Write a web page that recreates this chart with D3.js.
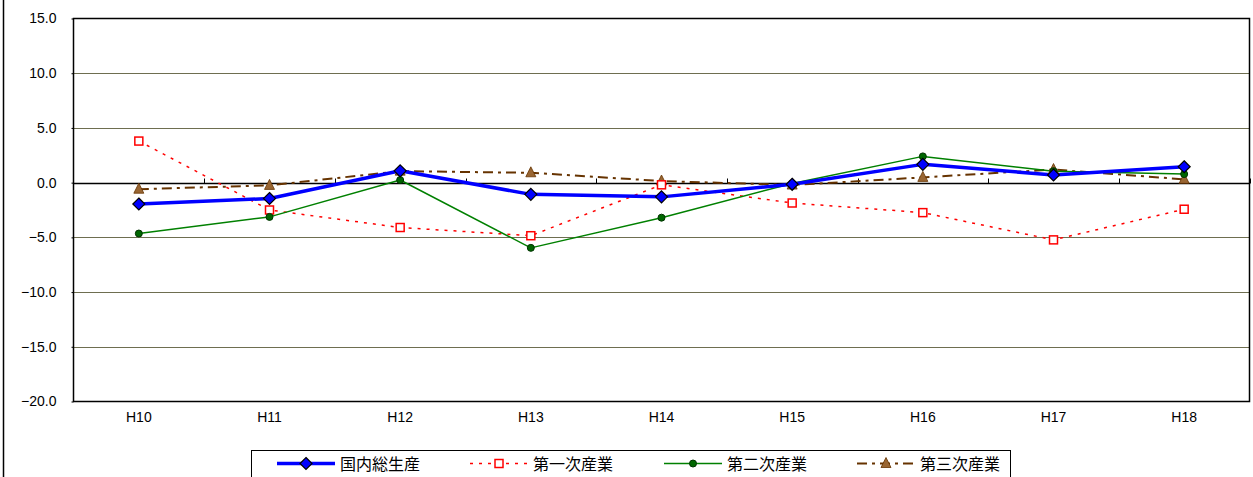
<!DOCTYPE html>
<html><head><meta charset="utf-8">
<script src="https://cdn.jsdelivr.net/npm/d3@7"></script>
<style>body{margin:0;background:#fff}svg{display:block}</style>
</head><body>
<svg id="c" width="1253" height="477"></svg>
<script>
const categories = ["H10","H11","H12","H13","H14","H15","H16","H17","H18"];
const gdp       = [-1.95,-1.45, 1.08,-1.07,-1.30,-0.15, 1.67, 0.70, 1.45];
const primary   = [ 3.80,-2.50,-4.10,-4.85,-0.20,-1.86,-2.74,-5.23,-2.43];
const secondary = [-4.65,-3.13, 0.24,-5.96,-3.20,-0.07, 2.40, 1.05, 0.78];
const tertiary  = [-0.60,-0.25, 1.05, 0.90, 0.15,-0.22, 0.48, 1.20, 0.30];
const seriesNames = ["国内総生産","第一次産業","第二次産業","第三次産業"];
const yTicks = [15,10,5,0,-5,-10,-15,-20];

const svg = d3.select("#c");
const L=73.5, R=1249.5, T=18.5, B=401.5;
const x = d3.scaleBand().domain(categories).range([L,R]);
const y = d3.scaleLinear().domain([-20,15]).range([B,T]);
const cx = d => x(d)+x.bandwidth()/2;
const numFont = "Liberation Sans, Arial, sans-serif";

// outer left border
svg.append("line").attr("x1",3.5).attr("x2",3.5).attr("y1",0).attr("y2",477).attr("stroke","#000").attr("stroke-width",1.5);

// gridlines
svg.append("g").selectAll("line").data(yTicks.filter(v=>v!==0 && v!==15 && v!==-20)).join("line")
  .attr("x1",L).attr("x2",R).attr("y1",d=>Math.round(y(d))+0.5).attr("y2",d=>Math.round(y(d))+0.5)
  .attr("stroke","#6e6e50").attr("stroke-width",1);

// plot border
svg.append("rect").attr("x",L).attr("y",T).attr("width",R-L).attr("height",B-T)
  .attr("fill","none").attr("stroke","#000").attr("stroke-width",1.5);

// y axis labels
const yAxis = d3.axisLeft(y).tickValues(yTicks).tickFormat(d3.format(".1f")).tickSize(2).tickPadding(15);
const gy = svg.append("g").attr("transform",`translate(${L},0)`).call(yAxis);
gy.select(".domain").remove();
gy.selectAll("line").attr("stroke","#000");
gy.selectAll("text").attr("font-family",numFont).attr("font-size",14).attr("fill","#000")
  .text(d=>d3.format(".1f")(d).replace("-","−"));

// zero axis with ticks at category boundaries
const y0 = Math.round(y(0))+0.5;
svg.append("line").attr("x1",L).attr("x2",R).attr("y1",y0).attr("y2",y0).attr("stroke","#000").attr("stroke-width",1.3);
const bounds = categories.slice(1).map(c=>x(c)).concat([R]);
svg.append("g").selectAll("line").data(bounds).join("line")
  .attr("x1",d=>Math.round(d)+0.5).attr("x2",d=>Math.round(d)+0.5).attr("y1",y0-5).attr("y2",y0)
  .attr("stroke","#000").attr("stroke-width",1);

// x labels
const xAxis = d3.axisBottom(x).tickSize(0).tickPadding(11);
const gx = svg.append("g").attr("transform",`translate(0,${B})`).call(xAxis);
gx.select(".domain").remove();
gx.selectAll("text").attr("font-family",numFont).attr("font-size",14).attr("fill","#000");

const line = d3.line().x((d,i)=>cx(categories[i])).y(d=>y(d));

function diamond(g,px,py,s){ g.append("path").attr("d",`M${px},${py-s}L${px+s},${py}L${px},${py+s}L${px-s},${py}Z`).attr("fill","#0000ff").attr("stroke","#000").attr("stroke-width",1.2); }
function square(g,px,py){ g.append("rect").attr("x",px-4).attr("y",py-4).attr("width",8).attr("height",8).attr("fill","#fff").attr("stroke","#ff0000").attr("stroke-width",1.5); }
function circle(g,px,py){ g.append("circle").attr("cx",px).attr("cy",py).attr("r",3.5).attr("fill","#006600").attr("stroke","#003300").attr("stroke-width",1); }
function tri(g,px,py){ g.append("path").attr("d",`M${px},${py-6}L${px+5},${py+4}L${px-5},${py+4}Z`).attr("fill","#996633").attr("stroke","#663300").attr("stroke-width",0.8); }

const styles = [
  {data:gdp, color:"#0000ff", w:3.5, dash:null, mk:(g,a,b)=>diamond(g,a,b,6)},
  {data:primary, color:"#ff0000", w:1.5, dash:"3,6", mk:square},
  {data:secondary, color:"#008000", w:1.5, dash:null, mk:circle},
  {data:tertiary, color:"#663300", w:2, dash:"10,5,3,5", mk:tri}
];
const order=[3,1,2,0];
order.forEach(k=>{
  const s=styles[k];
  svg.append("path").datum(s.data).attr("d",line).attr("fill","none").attr("stroke",s.color)
    .attr("stroke-width",s.w).attr("stroke-dasharray",s.dash).attr("stroke-linejoin","round");
});
order.forEach(k=>{
  const s=styles[k]; const g=svg.append("g");
  s.data.forEach((v,i)=>s.mk(g,cx(categories[i]),y(v)));
});

// legend
const lg = svg.append("g");
lg.append("rect").attr("x",251.5).attr("y",450.5).attr("width",759).attr("height",30).attr("fill","#fff").attr("stroke","#000").attr("stroke-width",1);
const lx=[277,470,664,857];
const ly=463.5;
seriesNames.forEach((n,k)=>{
  const s=styles[k];
  lg.append("line").attr("x1",lx[k]).attr("x2",lx[k]+58).attr("y1",ly).attr("y2",ly).attr("stroke",s.color)
    .attr("stroke-width",s.w).attr("stroke-dasharray",s.dash);
  s.mk(lg,lx[k]+29,ly);
  lg.append("text").attr("x",lx[k]+63).attr("y",ly+6).text(n)
    .attr("font-family","Noto Sans CJK JP, sans-serif").attr("font-size",16).attr("fill","#000");
});
</script>
</body></html>
